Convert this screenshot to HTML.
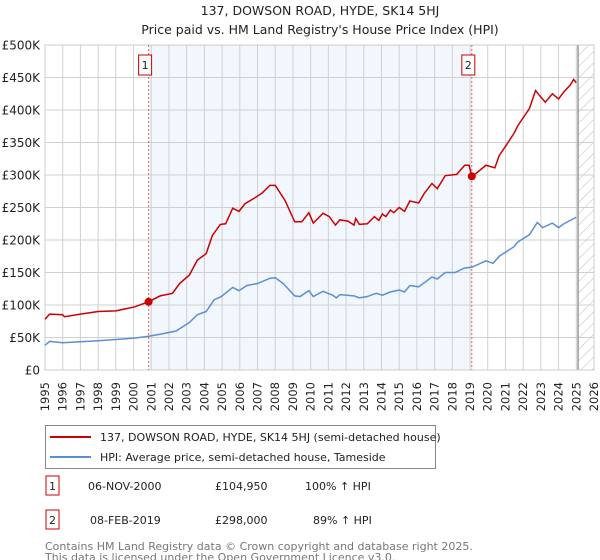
<!DOCTYPE html>
<html><head><meta charset="utf-8"><style>
body{margin:0;background:#fff;font-family:"Liberation Sans","DejaVu Sans",sans-serif;}
svg{display:block}
</style></head><body>
<svg id="chart" width="600" height="560" xmlns="http://www.w3.org/2000/svg" font-family="DejaVu Sans, Liberation Sans, sans-serif">
<text x="320" y="15" font-size="12.5" text-anchor="middle" fill="#222">137, DOWSON ROAD, HYDE, SK14 5HJ</text>
<text x="320" y="34" font-size="12.5" text-anchor="middle" fill="#222">Price paid vs. HM Land Registry's House Price Index (HPI)</text>
<defs><pattern id="hatch" width="8" height="8" patternUnits="userSpaceOnUse" patternTransform="rotate(45)"><line x1="0" y1="0" x2="0" y2="8" stroke="#bbb" stroke-width="1"/></pattern></defs>
<g id="plot"></g>
<g>
<rect x="45.5" y="425.5" width="390" height="43" fill="#fff" stroke="#888"/>
<line x1="50" y1="437" x2="91" y2="437" stroke="#cc0000" stroke-width="2"/>
<text x="100" y="441" font-size="11" fill="#222">137, DOWSON ROAD, HYDE, SK14 5HJ (semi-detached house)</text>
<line x1="50" y1="457" x2="91" y2="457" stroke="#5b8fd4" stroke-width="2"/>
<text x="100" y="461" font-size="11" fill="#222">HPI: Average price, semi-detached house, Tameside</text>
</g>
<g font-size="11" fill="#222">
<rect x="46" y="476" width="13" height="19" fill="#fff" stroke="#cc0000"/>
<text x="52.5" y="490" text-anchor="middle">1</text>
<text x="88" y="490">06-NOV-2000</text>
<text x="215" y="490">£104,950</text>
<text x="305" y="490">100% ↑ HPI</text>
<rect x="46" y="510" width="13" height="19" fill="#fff" stroke="#cc0000"/>
<text x="52.5" y="524" text-anchor="middle">2</text>
<text x="90" y="524">08-FEB-2019</text>
<text x="215" y="524">£298,000</text>
<text x="313" y="524">89% ↑ HPI</text>
</g>
<text x="45" y="550" font-size="11" fill="#777">Contains HM Land Registry data © Crown copyright and database right 2025.</text>
<text x="45" y="561" font-size="11" fill="#777">This data is licensed under the Open Government Licence v3.0.</text>
</svg>
<script>
const redYears=[1995.0,1995.26,1996.0,1996.1,1997.0,1998.0,1999.0,2000.05,2000.85,2001.5,2002.2,2002.6,2003.15,2003.6,2004.1,2004.45,2004.9,2005.2,2005.6,2005.95,2006.3,2006.8,2007.25,2007.7,2008.0,2008.55,2009.1,2009.5,2009.9,2010.15,2010.7,2011.05,2011.4,2011.65,2012.1,2012.45,2012.55,2012.75,2013.2,2013.6,2013.85,2014.05,2014.25,2014.5,2014.7,2015.0,2015.3,2015.6,2016.1,2016.4,2016.85,2017.15,2017.6,2018.25,2018.7,2018.95,2019.1,2019.45,2019.9,2020.4,2020.65,2021.05,2021.5,2021.7,2022.05,2022.35,2022.7,2022.9,2023.25,2023.65,2024.0,2024.3,2024.65,2024.85,2025.0];
const redValues=[78,86,85,82,86,90,91,97,105,114,118,133,146,169,179,207,224,225,249,244,256,264,272,284,284,261,228,228,242,226,241,236,223,231,229,223,233,224,225,236,230,240,236,246,242,250,244,260,257,271,287,279,299,301,315,315,297,305,315,311,330,346,365,376,390,402,430,423,412,425,417,428,438,447,442];
const hpiYears=[1995.0,1995.26,1996.0,1998.0,2000.05,2000.85,2001.5,2002.4,2003.15,2003.6,2004.1,2004.55,2004.95,2005.6,2005.95,2006.4,2007.0,2007.7,2008.0,2008.45,2009.1,2009.4,2009.9,2010.15,2010.7,2011.25,2011.45,2011.65,2012.45,2012.75,2013.2,2013.7,2014.05,2014.5,2015.0,2015.3,2015.6,2016.1,2016.85,2017.15,2017.6,2018.15,2018.7,2019.1,2019.9,2020.3,2020.65,2021.5,2021.7,2022.35,2022.8,2023.1,2023.65,2024.0,2024.3,2025.0];
const hpiValues=[38,44,42,45,49,52,55,60,73,85,90,108,113,127,122,130,133,141,142,133,114,113,122,113,121,115,111,116,114,111,113,118,115,120,123,120,130,128,143,140,150,150,157,158,168,164,175,190,197,208,227,219,226,219,225,235];
const saleYears=[2000.85,2019.1];
const saleValues=[104.95,298];
const saleLabels=["1","2"];
const yTicks=[0,50,100,150,200,250,300,350,400,450,500];
const yTickLabels=["£0","£50K","£100K","£150K","£200K","£250K","£300K","£350K","£400K","£450K","£500K"];
const xTicks=[1995,1996,1997,1998,1999,2000,2001,2002,2003,2004,2005,2006,2007,2008,2009,2010,2011,2012,2013,2014,2015,2016,2017,2018,2019,2020,2021,2022,2023,2024,2025,2026];
const X0=45,X1=594,Y0=370,Y1=45,YR0=1995,YR1=2026,VMAX=500;
const sx=y=>X0+(y-YR0)/(YR1-YR0)*(X1-X0);
const sy=v=>Y0-v/VMAX*(Y0-Y1);
const NS="http://www.w3.org/2000/svg";
const g=document.getElementById('plot');
function mk(tag,attrs,parent){const e=document.createElementNS(NS,tag);for(const k in attrs)e.setAttribute(k,attrs[k]);(parent||g).appendChild(e);return e;}
let e;
e=mk('rect',{x:sx(saleYears[0]),y:Y1,width:sx(saleYears[1])-sx(saleYears[0]),height:Y0-Y1,fill:'#f2f6fd'});


e=mk('rect',{x:sx(2025.1),y:Y1,width:X1-sx(2025.1),height:Y0-Y1,fill:'url(#hatch)'});


xTicks.forEach(t=>{
 e=mk('line',{x1:sx(t),x2:sx(t),y1:Y1,y2:Y0,stroke:'#d0d0d0','stroke-width':1});
 
 
 e=mk('text',{x:0,y:0,transform:`translate(${sx(t)+4},382) rotate(-90)`,'font-size':11.5,'text-anchor':'end',fill:'#222'});
 e.textContent=t;
 
 
});
yTicks.forEach((t,i)=>{
 e=mk('line',{x1:X0,x2:X1,y1:sy(t),y2:sy(t),stroke:'#d0d0d0','stroke-width':1});
 
 
 e=mk('text',{x:40,y:sy(t)+4.5,'font-size':12,'text-anchor':'end',fill:'#222'});
 e.textContent=yTickLabels[i];
 
 
});
e=mk('line',{x1:sx(2025.1),x2:sx(2025.1),y1:Y1,y2:Y0,stroke:'#999','stroke-width':1.5});


e=mk('rect',{x:X0,y:Y1,width:X1-X0,height:Y0-Y1,fill:'none',stroke:'#ccc'});


saleYears.forEach((s,i)=>{
 e=mk('line',{x1:sx(s),x2:sx(s),y1:Y1,y2:Y0,stroke:'#e06060','stroke-width':1,'stroke-dasharray':'2,2'});
 
 
});
e=mk('polyline',{points:hpiYears.map((y,i)=>sx(y)+','+sy(hpiValues[i])).join(' '),fill:'none',stroke:'#5b8fd4','stroke-width':1.5});


e=mk('polyline',{points:redYears.map((y,i)=>sx(y)+','+sy(redValues[i])).join(' '),fill:'none',stroke:'#cc0000','stroke-width':1.5});


saleYears.forEach((s,i)=>{
 e=mk('circle',{cx:sx(s),cy:sy(saleValues[i]),r:4,fill:'#cc0000'});
 
 
 e=mk('rect',{x:sx(s)-10,y:55,width:13,height:20,fill:'#fff',stroke:'#cc0000'});
 
 
 e=mk('text',{x:sx(s)-3.5,y:69,'font-size':11,'text-anchor':'middle',fill:'#222'});
 e.textContent=saleLabels[i];
 
 
});
</script>
</body></html>
